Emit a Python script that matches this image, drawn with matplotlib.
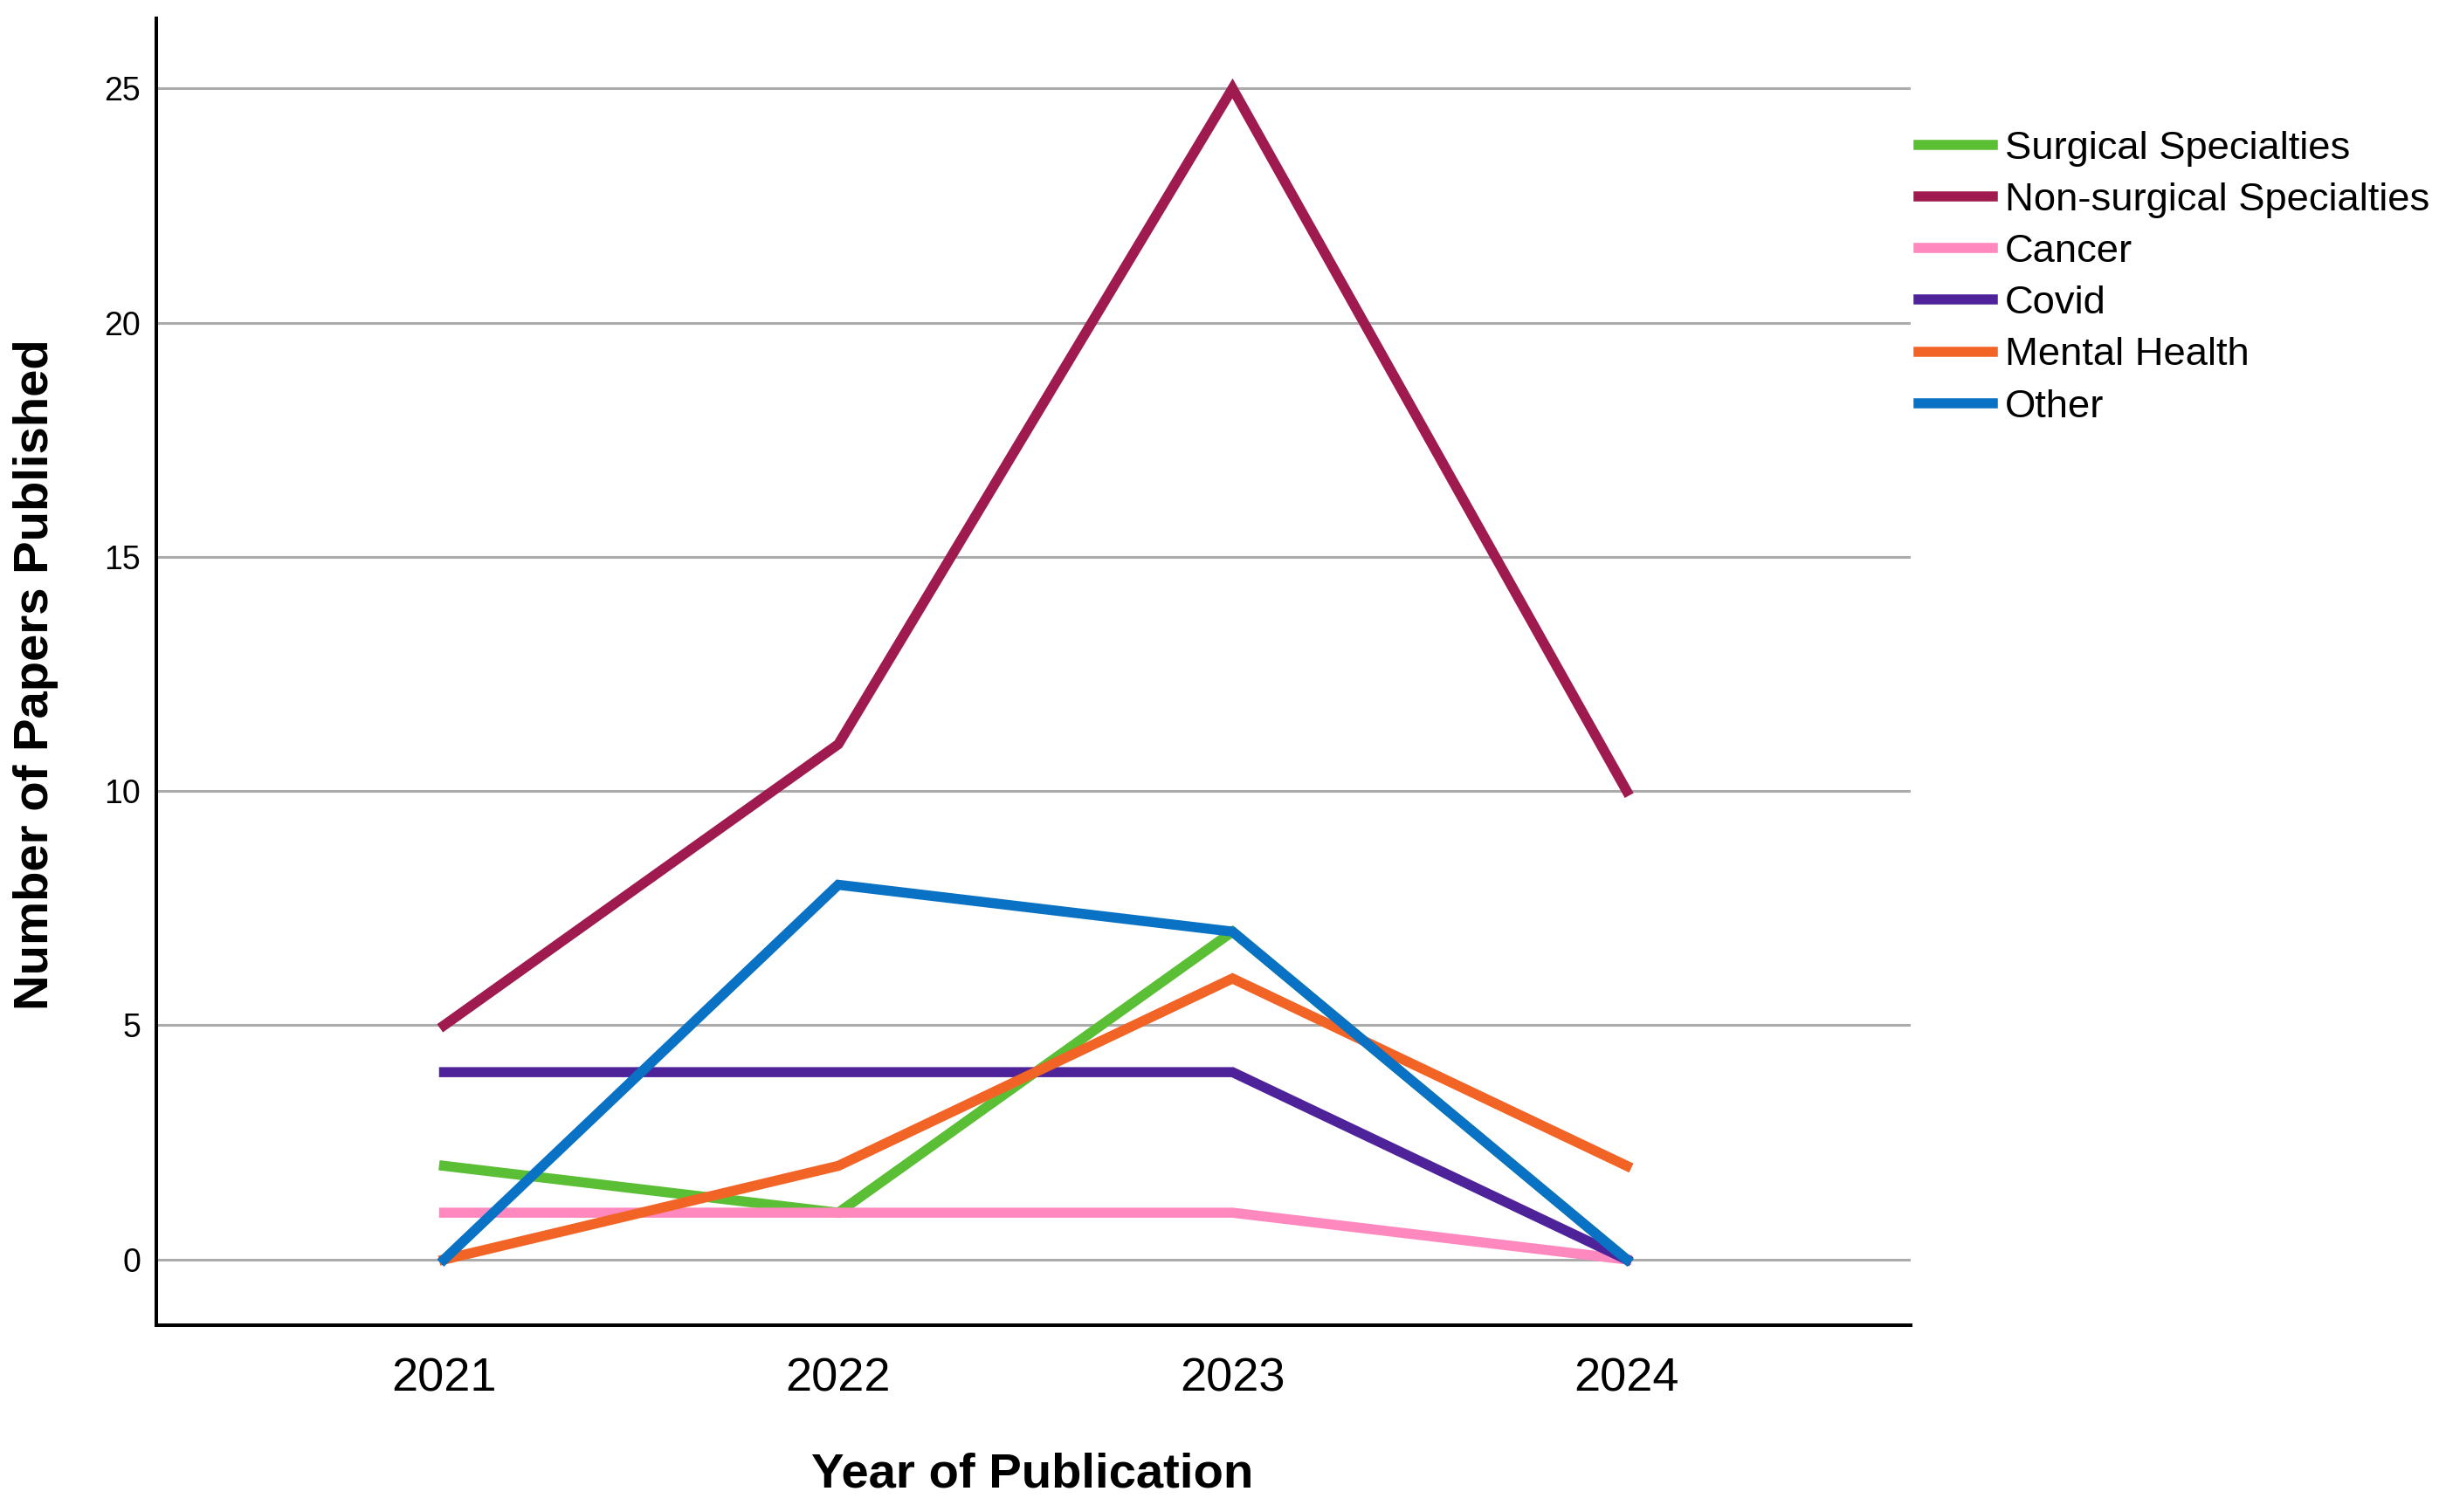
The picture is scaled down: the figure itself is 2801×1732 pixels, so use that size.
import numpy as np
import matplotlib.pyplot as plt

plt.rcParams['font.family'] = ['Liberation Sans', 'DejaVu Sans']

years = [2021, 2022, 2023, 2024]
series_names = ['Surgical Specialties', 'Non-surgical Specialties', 'Cancer',
                'Covid', 'Mental Health', 'Other']
surgical = [2, 1, 7, 0]
non_surgical = [5, 11, 25, 10]
cancer = [1, 1, 1, 0]
covid = [4, 4, 4, 0]
mental_health = [0, 2, 6, 2]
other = [0, 8, 7, 0]
colors = ['#5BBF35', '#9E1A4F', '#FF88BE', '#4E2299', '#F26426', '#0A72C4']

fig = plt.figure(figsize=(28.01, 17.32), dpi=100)
ax = fig.add_axes([0.0639, 0.1236, 0.7172, 0.8644])

all_series = [surgical, non_surgical, cancer, covid, mental_health, other]
for name, vals, c in zip(series_names, all_series, colors):
    ax.plot(years, vals, color=c, lw=8.3, label=name, solid_joinstyle='miter')

ax.set_xlim(2020.27, 2024.72)
ax.set_ylim(-1.40, 26.5)
ax.set_xticks(years)
ax.set_yticks([0, 5, 10, 15, 20, 25])
ax.yaxis.grid(True, color='#ABABAB', lw=2.2)
ax.set_axisbelow(True)
ax.tick_params(axis='x', length=0, pad=26, labelsize=39)
ax.tick_params(axis='y', length=0, pad=13, labelsize=27)

for s in ['top', 'right']:
    ax.spines[s].set_visible(False)
for s in ['left', 'bottom']:
    ax.spines[s].set_linewidth(2.9)
    ax.spines[s].set_color('black')

fig.text(0.0145, 0.554, 'Number of Papers Published', rotation=90, fontsize=40.5,
         fontweight='bold', ha='center', va='center')
fig.text(0.4222, 0.0248, 'Year of Publication', fontsize=40.5,
         fontweight='bold', ha='center', va='center')

ax.legend(loc='upper left', bbox_to_anchor=(0.7845, 0.9135),
          bbox_transform=fig.transFigure, frameon=False, fontsize=32.7,
          borderpad=0, borderaxespad=0, handlelength=1.87, handletextpad=0.3,
          labelspacing=0.4)

fig.savefig('out.png', dpi=100)
